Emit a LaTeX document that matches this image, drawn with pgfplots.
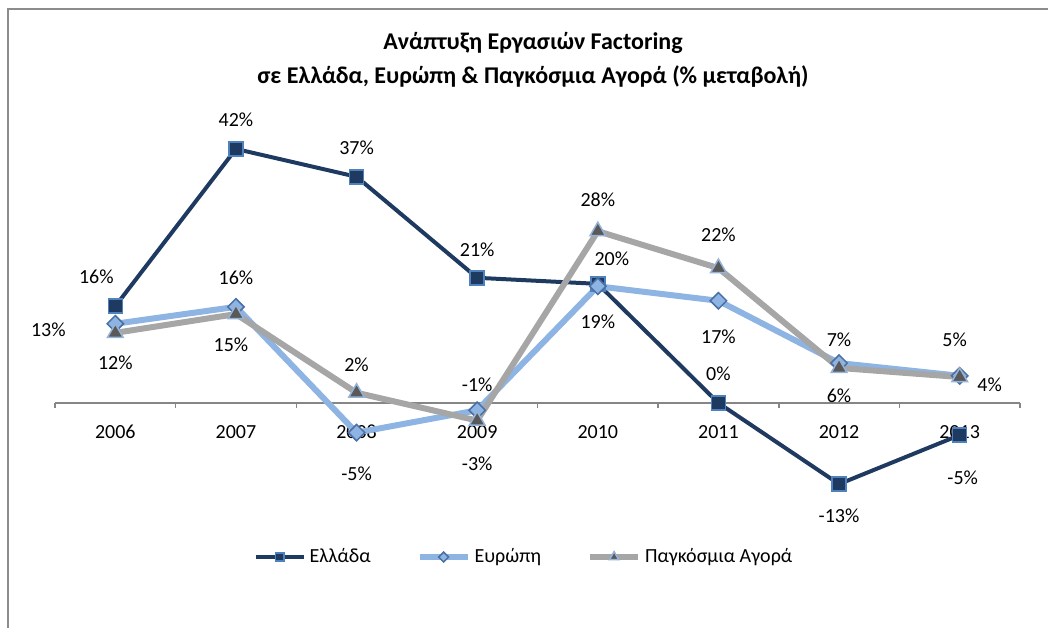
\documentclass[border=0pt]{standalone}
\usepackage{fontspec}
\setmainfont{Carlito}
\usepackage{pgfplots}
\pgfplotsset{compat=1.18}
\usepackage{pgfplotstable}
\definecolor{grc}{HTML}{1F3A60}
\definecolor{grcedge}{HTML}{4F81BD}
\definecolor{eur}{HTML}{8DB4E2}
\definecolor{euredge}{HTML}{4A6FA5}
\definecolor{wld}{HTML}{A6A6A6}
\definecolor{wldfill}{HTML}{595959}
\definecolor{wldedge}{HTML}{95B3D7}
\definecolor{axgray}{HTML}{868686}
\definecolor{framegray}{HTML}{8C8C8C}

\pgfplotstableread{
x y lab dx dy
0 16.0 16 -9.5 14.5
1 42.0 42 0 14.5
2 37.4 37 0 14.5
3 20.7 21 0 14
4 19.7 20 7 12.5
5 0.0 0 0 14.5
6 -13.4 -13 0 -16
7 -5.3 -5 1.5 -21.5
}\greece

\pgfplotstableread{
x y lab dx dy
0 13.1 13 -33.5 -3
1 15.9 16 0 14.5
2 -4.9 -5 0 -20.5
3 -1.2 -1 0 13
4 19.3 19 0 -17.5
5 16.9 17 0 -18
6 6.6 7 0 11.5
7 4.5 5 -2.5 18
}\europe

\pgfplotstableread{
x y lab dx dy
0 11.6 12 0 -15
1 14.7 15 -2.5 -15.5
2 1.7 2 0 14
3 -2.9 -3 0 -21.5
4 28.4 28 0 15.5
5 22.3 22 0 16.5
6 5.8 6 0 -14
7 4.3 4 15 -4
}\world

\begin{document}
\begin{tikzpicture}
\path[use as bounding box] (0,0) rectangle (524pt,314pt);
\draw[framegray, line width=1pt] (4pt,0pt) -- (4pt,309.5pt) -- (524pt,309.5pt);
\node[align=center, font=\bfseries\fontsize{12}{17}\selectfont] at (266.5pt,284pt)
  {Ανάπτυξη Εργασιών Factoring\\σε Ελλάδα, Ευρώπη \& Παγκόσμια Αγορά (\% μεταβολή)};
\begin{axis}[
  at={(27.5pt,52pt)}, anchor=south west,
  scale only axis, width=482.5pt, height=196.6pt,
  xmin=-0.5, xmax=7.5, ymin=-20, ymax=45,
  axis x line=middle, axis y line=none,
  x axis line style={-, draw=axgray, line width=0.75pt},
  xtick={0,...,7},
  xticklabels={2006,2007,2008,2009,2010,2011,2012,2013},
  major tick length=0pt,
  minor xtick={-0.5,0.5,...,7.5},
  minor tick length=2.5pt,
  tick align=outside,
  tick style={draw=axgray, line width=0.75pt},
  xticklabel style={font=\fontsize{10}{12}\selectfont, anchor=center, yshift=-14.5pt},
  clip=false,
  point meta=explicit symbolic,
  nodes near coords={\pgfplotspointmeta\%},
  visualization depends on={\thisrow{dx}\as\dx},
  visualization depends on={\thisrow{dy}\as\dy},
  every node near coord/.append style={font=\fontsize{10}{12}\selectfont, text=black, anchor=center, xshift=\dx pt, yshift=\dy pt},
  legend columns=3,
  legend style={draw=none, fill=none, at={(axis description cs:0.487,-0.084)}, anchor=center,
    font=\fontsize{10}{12}\selectfont,
    /tikz/every even column/.append style={column sep=21pt}},
  legend image code/.code={\draw[mark repeat=2,mark phase=2,#1,every mark/.append style={scale=0.6}] plot coordinates {(0pt,0pt) (12pt,0pt) (24pt,0pt)};},
]
\addplot[grc, line width=2pt, mark=square*, mark size=3.5pt,
  mark options={fill=grc, draw=grcedge, line width=0.75pt}]
  table[x=x, y=y, meta=lab] {\greece};
\addlegendentry{Ελλάδα}
\addplot[eur, line width=3pt, mark=square*, mark size=2.9pt,
  mark options={rotate=45, fill=eur, draw=euredge, line width=0.75pt}]
  table[x=x, y=y, meta=lab] {\europe};
\addlegendentry{Ευρώπη}
\addplot[wld, line width=3pt, mark=triangle*, mark size=4.5pt,
  mark options={fill=wldfill, draw=wldedge, line width=0.75pt}]
  table[x=x, y=y, meta=lab] {\world};
\addlegendentry{Παγκόσμια Αγορά}
\end{axis}
\end{tikzpicture}
\end{document}
